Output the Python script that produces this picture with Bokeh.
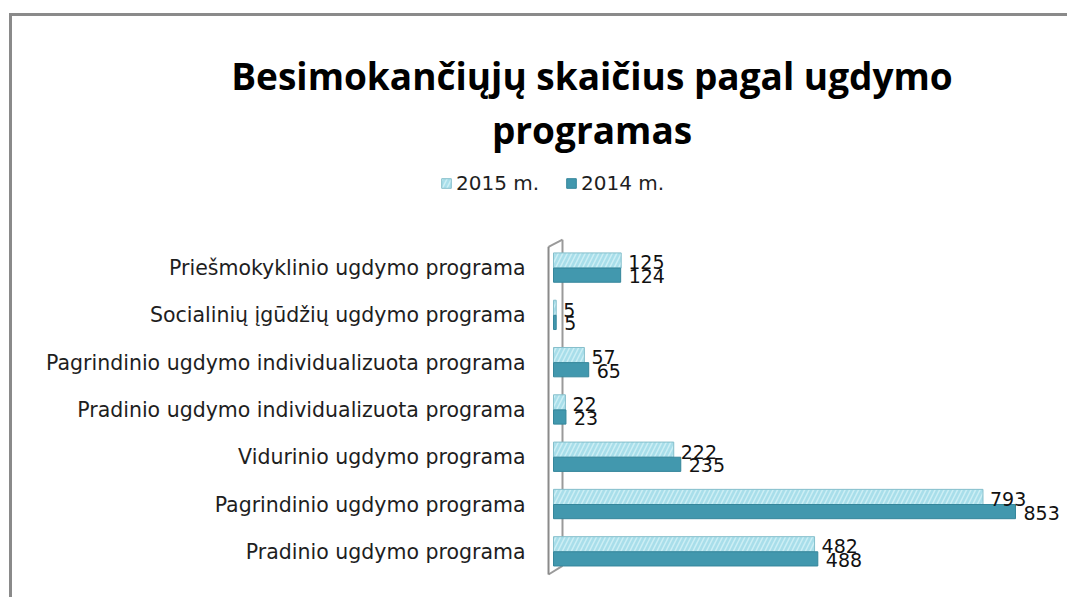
from bokeh.plotting import figure
from bokeh.models import Range1d, Label, Legend, LegendItem, ColumnDataSource
from bokeh.core.properties import value
from bokeh.embed import file_html
from bokeh.resources import INLINE

categories = [
    "Priešmokyklinio ugdymo programa",
    "Socialinių įgūdžių ugdymo programa",
    "Pagrindinio ugdymo individualizuota programa",
    "Pradinio ugdymo individualizuota programa",
    "Vidurinio ugdymo programa",
    "Pagrindinio ugdymo programa",
    "Pradinio ugdymo programa",
]
v2015 = [125, 5, 57, 22, 222, 793, 482]
v2014 = [124, 5, 65, 23, 235, 853, 488]
series_names = ["2015 m.", "2014 m."]
title_lines = ["Besimokančiųjų skaičius pagal ugdymo", "programas"]

LIGHT = "#a8deea"
DARK = "#4298ae"
FONT = "DejaVu Sans"

n = len(categories)
rows = list(range(n))  # row index, top to bottom
src = ColumnDataSource(dict(
    cat=categories,
    row=rows,
    y15=[r - 0.16 for r in rows],
    y14=[r + 0.15 for r in rows],
    v2015=v2015,
    v2014=v2014,
    t2015=[str(v) for v in v2015],
    t2014=[str(v) for v in v2014],
))

W, H = 1058, 584
p = figure(
    width=W, height=H,
    x_range=Range1d(-998.9, -998.9 + W / 0.5416),
    y_range=Range1d(7.03, 7.03 - H / 47.29),   # reversed: first row at top
    output_backend="svg", toolbar_location=None,
    min_border=0, min_border_left=0, min_border_right=0,
    min_border_top=0, min_border_bottom=0,
    background_fill_color="white", border_fill_color="white",
    outline_line_color=None,
)
p.styles = {
    "margin-left": "9px", "margin-top": "13px",
    "border-left": "3px solid #8a8a8a", "border-top": "3px solid #8a8a8a",
}
p.xaxis.visible = False
p.yaxis.visible = False
p.xgrid.visible = False
p.ygrid.visible = False

# 3D category wall (back and front edges)
p.segment(x0=[16.6], y0=[-0.6], x1=[16.6], y1=[n - 0.7], line_color="#9a9a9a", line_width=2)
p.segment(x0=[16.6], y0=[-0.6], x1=[-9.2], y1=[-0.45], line_color="#9a9a9a", line_width=2)
p.segment(x0=[16.6], y0=[n - 0.7], x1=[-9.2], y1=[n - 0.52], line_color="#9a9a9a", line_width=2)

r15 = p.hbar(y="y15", right="v2015", left=0, height=0.32, source=src,
             fill_color=LIGHT, line_color="#86bfcb", line_width=1,
             hatch_pattern="/", hatch_color="#dcf5fa", hatch_alpha=0.7,
             hatch_scale=9, hatch_weight=1.5)
r14 = p.hbar(y="y14", right="v2014", left=0, height=0.30, source=src,
             fill_color=DARK, line_color="#35869b", line_width=1)

p.segment(x0=[-9.2], y0=[-0.45], x1=[-9.2], y1=[n - 0.52], line_color="#8a8a8a", line_width=2)

# category labels
p.text(x=0, y="row", text="cat", source=src, x_offset=-28,
       text_baseline="middle", text_align="right",
       text_font=value(FONT), text_font_size="20.5px", text_color="#1e1e1e")

# value labels
p.text(x="v2015", y="y15", text="t2015", source=src, x_offset=7, y_offset=2,
       text_baseline="middle", text_align="left",
       text_font=value(FONT), text_font_size="19px", text_color="#111111")
p.text(x="v2014", y="y14", text="t2014", source=src, x_offset=8, y_offset=1,
       text_baseline="middle", text_align="left",
       text_font=value(FONT), text_font_size="19px", text_color="#111111")

legend = Legend(
    items=[LegendItem(label=series_names[0], renderers=[r15]),
           LegendItem(label=series_names[1], renderers=[r14])],
    location=(428, 405), orientation="horizontal",
    glyph_width=12, glyph_height=12, label_standoff=4, spacing=26,
    padding=0, margin=0, border_line_color=None, background_fill_alpha=0,
    label_text_font=FONT, label_text_font_size="20px",
    label_text_color="#1e1e1e", label_height=22,
)
p.add_layout(legend, "center")

for line, yy in zip(title_lines, [H - 59, H - 113]):
    p.add_layout(Label(x=579.5, y=yy, x_units="screen", y_units="screen", text=line,
                       text_align="center", text_baseline="alphabetic",
                       text_font="Open Sans", text_font_style="bold",
                       text_font_size="37px", text_color="#000000"))

open("out.html", "w").write(file_html(p, INLINE))
